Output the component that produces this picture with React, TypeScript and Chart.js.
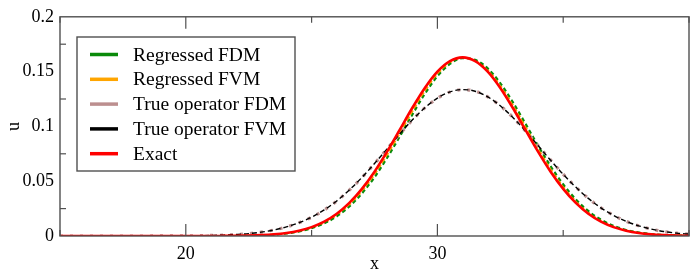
import React, { useEffect, useRef } from "react";
import { Chart, registerables } from "chart.js";

Chart.register(...registerables);

// ---- data ----
const xs = [
  15, 15.5, 16, 16.5, 17, 17.5, 18, 18.5, 19, 19.5, 20, 20.5, 21, 21.5, 22, 22.5,
  23, 23.5, 24, 24.5, 25, 25.5, 26, 26.5, 27, 27.5, 28, 28.5, 29, 29.5, 30, 30.5,
  31, 31.5, 32, 32.5, 33, 33.5, 34, 34.5, 35, 35.5, 36, 36.5, 37, 37.5, 38, 38.5,
  39, 39.5, 40,
];

const regressedFDM = [
  0, 0, 0, 0, 0, 0, 0, 0, 0, 0, 0, 0, 0, 0.0001, 0.0001, 0.0003,
  0.0006, 0.0012, 0.0023, 0.0041, 0.007, 0.0114, 0.0178, 0.0268, 0.0387, 0.0535, 0.0711, 0.0905, 0.1105, 0.1295, 0.1456, 0.1569,
  0.1622, 0.1608, 0.153, 0.1396, 0.1222, 0.1026, 0.0826, 0.0638, 0.0473, 0.0336, 0.0229, 0.015, 0.0094, 0.0056, 0.0033, 0.0018,
  0.001, 0.0005, 0.0002,
];

const regressedFVM = [
  0, 0, 0, 0, 0, 0, 0, 0, 0, 0, 0, 0, 0, 0.0001, 0.0002, 0.0003,
  0.0007, 0.0013, 0.0025, 0.0044, 0.0075, 0.0122, 0.019, 0.0285, 0.0408, 0.0561, 0.074, 0.0936, 0.1136, 0.1323, 0.1478, 0.1582,
  0.1626, 0.1602, 0.1515, 0.1373, 0.1195, 0.0997, 0.0798, 0.0612, 0.0451, 0.0319, 0.0216, 0.014, 0.0087, 0.0052, 0.003, 0.0016,
  0.0009, 0.0004, 0.0002,
];

const trueOperatorFDM = [
  0, 0, 0, 0, 0, 0, 0, 0, 0.0001, 0.0001, 0.0002, 0.0003, 0.0005, 0.0008, 0.0014, 0.0022,
  0.0035, 0.0055, 0.0083, 0.0121, 0.0171, 0.0237, 0.0319, 0.0419, 0.0533, 0.066, 0.0794, 0.0929, 0.1057, 0.1169, 0.1257, 0.1314,
  0.1335, 0.1321, 0.127, 0.1188, 0.1083, 0.0959, 0.0826, 0.0692, 0.0564, 0.0447, 0.0344, 0.0258, 0.0189, 0.0134, 0.0093, 0.0063,
  0.0041, 0.0026, 0.0017,
];

const trueOperatorFVM = [
  0, 0, 0, 0, 0, 0, 0, 0, 0.0001, 0.0001, 0.0002, 0.0003, 0.0005, 0.0008, 0.0014, 0.0022,
  0.0035, 0.0055, 0.0083, 0.0121, 0.0172, 0.0238, 0.032, 0.042, 0.0534, 0.0661, 0.0795, 0.093, 0.1058, 0.117, 0.1258, 0.1315,
  0.1336, 0.1321, 0.127, 0.1188, 0.1082, 0.0958, 0.0825, 0.0691, 0.0563, 0.0446, 0.0343, 0.0257, 0.0188, 0.0134, 0.0093, 0.0063,
  0.0041, 0.0026, 0.0017,
];

const exact = [
  0, 0, 0, 0, 0, 0, 0, 0, 0, 0, 0, 0, 0, 0.0001, 0.0002, 0.0004,
  0.0008, 0.0015, 0.0027, 0.0048, 0.0081, 0.0131, 0.0203, 0.0302, 0.043, 0.0587, 0.077, 0.0968, 0.1168, 0.1351, 0.15, 0.1596,
  0.163, 0.1596, 0.15, 0.1351, 0.1168, 0.0968, 0.077, 0.0587, 0.043, 0.0302, 0.0203, 0.0131, 0.0081, 0.0048, 0.0027, 0.0015,
  0.0008, 0.0004, 0.0002,
];

const xTickValues = [20, 30];
const xTickLabels = ["20", "30"];
const yTickLabels = ["0", "0.05", "0.1", "0.15", "0.2"];
const yMinorTicks = [0.025, 0.075, 0.125, 0.175];
const xTitle = "x";
const yTitle = "u";

const FONT = "'Liberation Serif', 'Times New Roman', serif";

const series = [
  { label: "Regressed FDM", values: regressedFDM, color: "#0a8a0a", width: 2, dash: [4, 3], order: 4, legendWidth: 3.5 },
  { label: "Regressed FVM", values: regressedFVM, color: "#ffa500", width: 2, dash: [5, 2], order: 5, legendWidth: 3.5 },
  { label: "True operator FDM", values: trueOperatorFDM, color: "#bc8f8f", width: 3.2, dash: [3, 7], order: 3, legendWidth: 3.5 },
  { label: "True operator FVM", values: trueOperatorFVM, color: "#000000", width: 1.4, dash: [5, 3], order: 2, legendWidth: 3.5 },
  { label: "Exact", values: exact, color: "#ff0000", width: 2.6, dash: [] as number[], order: 1, legendWidth: 3.5 },
];

const decorPlugin = {
  id: "decor",
  afterDraw(chart: any) {
    const { ctx, chartArea: a, scales } = chart;
    const xs0 = scales.x;
    const ys0 = scales.y;
    ctx.save();

    // frame
    ctx.strokeStyle = "#505050";
    ctx.lineWidth = 1.4;
    ctx.setLineDash([]);
    ctx.strokeRect(a.left, a.top, a.right - a.left, a.bottom - a.top);

    // x ticks (inward, top and bottom)
    ctx.lineWidth = 1.2;
    for (const t of xs0.ticks) {
      const px = xs0.getPixelForValue(t.value);
      const len = xTickValues.includes(t.value) ? 12 : 6;
      ctx.beginPath();
      ctx.moveTo(px, a.bottom);
      ctx.lineTo(px, a.bottom - len);
      ctx.moveTo(px, a.top);
      ctx.lineTo(px, a.top + len);
      ctx.stroke();
    }
    // y minor ticks (inward, left)
    for (const v of yMinorTicks) {
      const py = ys0.getPixelForValue(v);
      ctx.beginPath();
      ctx.moveTo(a.left, py);
      ctx.lineTo(a.left + 6, py);
      ctx.stroke();
    }

    // axis titles
    ctx.fillStyle = "#000";
    ctx.font = `18px ${FONT}`;
    ctx.textAlign = "center";
    ctx.textBaseline = "middle";
    ctx.fillText(xTitle, (a.left + a.right) / 2, 264);
    ctx.save();
    ctx.translate(14, (a.top + a.bottom) / 2);
    ctx.rotate(-Math.PI / 2);
    ctx.fillText(yTitle, 0, 0);
    ctx.restore();

    // legend
    const bx = 77, by = 37, bw = 218, bh = 134;
    ctx.fillStyle = "#fff";
    ctx.fillRect(bx, by, bw, bh);
    ctx.strokeStyle = "#505050";
    ctx.lineWidth = 1.4;
    ctx.strokeRect(bx, by, bw, bh);
    ctx.font = `19.5px ${FONT}`;
    ctx.textAlign = "left";
    ctx.textBaseline = "middle";
    series.forEach((s, i) => {
      const ry = 54.5 + i * 24.8;
      ctx.strokeStyle = s.color;
      ctx.lineWidth = s.legendWidth;
      ctx.setLineDash([]);
      ctx.beginPath();
      ctx.moveTo(90, ry);
      ctx.lineTo(118, ry);
      ctx.stroke();
      ctx.fillStyle = "#000";
      ctx.fillText(s.label, 133, ry + 1);
    });
    ctx.restore();
  },
};

export default function App() {
  const ref = useRef<HTMLCanvasElement | null>(null);

  useEffect(() => {
    document.body.style.margin = "0";
    const canvas = ref.current;
    if (!canvas) return;
    const chart = new Chart(canvas, {
      type: "line",
      data: {
        datasets: series.map((s) => ({
          label: s.label,
          data: xs.map((x, i) => ({ x, y: s.values[i] })),
          borderColor: s.color,
          backgroundColor: s.color,
          borderWidth: s.width,
          borderDash: s.dash,
          borderCapStyle: "butt" as const,
          pointRadius: 0,
          fill: false,
          cubicInterpolationMode: "monotone" as const,
          order: s.order,
        })),
      },
      options: {
        animation: false,
        responsive: false,
        devicePixelRatio: 1,
        layout: { padding: { left: 0, right: 11, top: 16, bottom: 0 } },
        plugins: {
          legend: { display: false },
          tooltip: { enabled: false },
          title: { display: false },
        },
        scales: {
          x: {
            type: "linear",
            min: 15,
            max: 40,
            grid: { display: false, drawTicks: false },
            border: { display: false },
            ticks: {
              stepSize: 5,
              padding: 7,
              maxRotation: 0,
              autoSkip: false,
              color: "#000",
              font: { family: FONT, size: 18 },
              callback: (v: any) => {
                const k = xTickValues.indexOf(Number(v));
                return k >= 0 ? xTickLabels[k] : "";
              },
            },
            afterFit: (scale: any) => {
              scale.height = 43;
            },
          },
          y: {
            type: "linear",
            min: 0,
            max: 0.2,
            grid: { display: false, drawTicks: false },
            border: { display: false },
            ticks: {
              stepSize: 0.05,
              padding: 6,
              color: "#000",
              font: { family: FONT, size: 18 },
              callback: (_v: any, i: number) => yTickLabels[i] ?? "",
            },
            afterFit: (scale: any) => {
              scale.width = 60;
            },
          },
        },
      },
      plugins: [decorPlugin],
    });
    return () => chart.destroy();
  }, []);

  return (
    <div style={{ width: 700, height: 279, background: "#fff" }}>
      <canvas ref={ref} width={700} height={279} style={{ display: "block" }} />
    </div>
  );
}
